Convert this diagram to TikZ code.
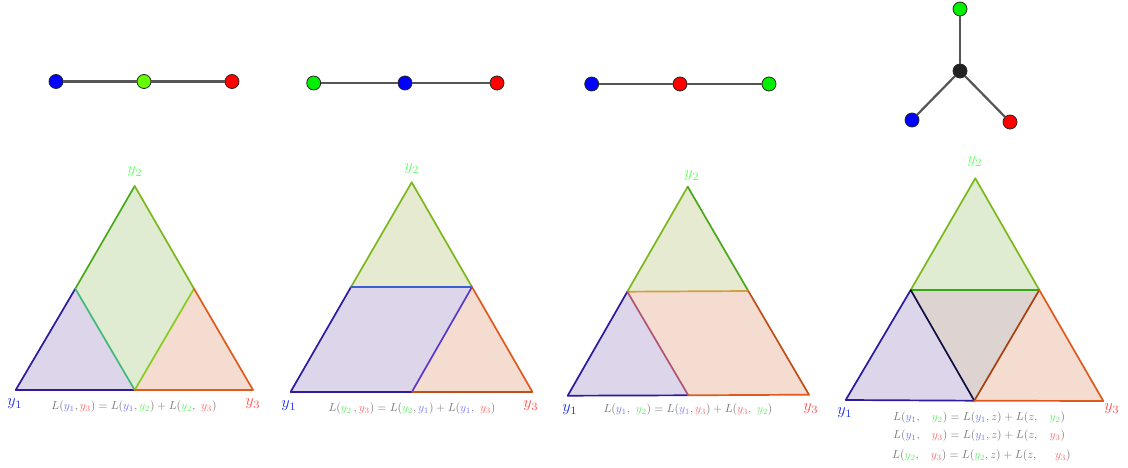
\documentclass[tikz,border=0pt]{standalone}
\usepackage{xcolor}
\definecolor{nblue}{HTML}{0000FF}
\definecolor{nred}{HTML}{FF0000}
\definecolor{ngreen}{HTML}{00F000}
\definecolor{nlime}{HTML}{66FF00}
\definecolor{nblack}{HTML}{222222}
\definecolor{gline}{HTML}{555555}
\definecolor{fpurple}{HTML}{DDD6EA}
\definecolor{fgreen}{HTML}{E0ECD2}
\definecolor{fgreenb}{HTML}{E5EAD0}
\definecolor{forange}{HTML}{F4DCD0}
\definecolor{fcenter}{HTML}{DDD4D2}
\definecolor{eindigo}{HTML}{2E1A9E}
\definecolor{egreen}{HTML}{4AA81A}
\definecolor{eygreen}{HTML}{7AB81C}
\definecolor{eorange}{HTML}{E05A1E}
\definecolor{ebrown}{HTML}{C0501A}
\definecolor{eteal}{HTML}{44B87A}
\definecolor{elime}{HTML}{88CC22}
\definecolor{eblue}{HTML}{3A5FD0}
\definecolor{eviolet}{HTML}{5A3AC8}
\definecolor{eochre}{HTML}{D0A040}
\definecolor{emauve}{HTML}{B05575}
\definecolor{edkgreen}{HTML}{33AA11}
\definecolor{enavy}{HTML}{101040}
\definecolor{erust}{HTML}{A84010}
\definecolor{lblue}{HTML}{2233EE}
\definecolor{lred}{HTML}{FF5555}
\definecolor{lgreen}{HTML}{66FF66}
\definecolor{tgray}{HTML}{777777}
\definecolor{tblue}{HTML}{7777FF}
\definecolor{tred}{HTML}{FF6666}
\definecolor{tgreen}{HTML}{66EE66}
\newcommand{\ybl}[1]{\textcolor{tblue}{#1}}
\newcommand{\yrd}[1]{\textcolor{tred}{#1}}
\newcommand{\ygr}[1]{\textcolor{tgreen}{#1}}
\newcommand{\wsp}{\ \;\;}
\tikzset{
  vtx/.style={circle,draw=black!85,line width=0.8pt,minimum size=14pt,inner sep=0pt},
  gedge/.style={draw=gline,line width=2.2pt},
  tedge/.style={line width=1.7pt,line cap=round},
  corner/.style={scale=1.6,inner sep=0pt},
  formula/.style={text=tgray,scale=1.16,inner sep=0pt}
}
\begin{document}
\begin{tikzpicture}[x=1pt,y=-1pt]
\useasboundingbox (0,0) rectangle (1128,468);
% ---------- graphs ----------
\node[vtx,fill=nblue] (g1a) at (56,81.5) {};
\node[vtx,fill=nlime] (g1b) at (144,81.5) {};
\node[vtx,fill=nred] (g1c) at (232,81.5) {};
\draw[gedge] (g1a) -- (g1b);
\draw[gedge] (g1b) -- (g1c);
\node[vtx,fill=ngreen] (g2a) at (313.7,83) {};
\node[vtx,fill=nblue] (g2b) at (405,83) {};
\node[vtx,fill=nred] (g2c) at (497,83) {};
\draw[gedge] (g2a) -- (g2b);
\draw[gedge] (g2b) -- (g2c);
\node[vtx,fill=nblue] (g3a) at (591.7,84) {};
\node[vtx,fill=nred] (g3b) at (680,84) {};
\node[vtx,fill=ngreen] (g3c) at (769,84) {};
\draw[gedge] (g3a) -- (g3b);
\draw[gedge] (g3b) -- (g3c);
\node[vtx,fill=ngreen] (g4g) at (960,9) {};
\node[vtx,fill=nblack] (g4z) at (960,71) {};
\node[vtx,fill=nblue] (g4b) at (912,120) {};
\node[vtx,fill=nred] (g4r) at (1010,122) {};
\draw[gedge] (g4z) -- (g4g);
\draw[gedge] (g4z) -- (g4b);
\draw[gedge] (g4z) -- (g4r);
% ---------- panel 1 ----------
\coordinate (A1) at (15.7,390);
\coordinate (B1) at (134.7,186);
\coordinate (C1) at (253,390);
\coordinate (L1) at (75.3,288.7);
\coordinate (R1) at (194,288.7);
\coordinate (M1) at (134.7,390);
\fill[fpurple] (A1) -- (L1) -- (M1) -- cycle;
\fill[fgreen] (L1) -- (B1) -- (R1) -- (M1) -- cycle;
\fill[forange] (M1) -- (R1) -- (C1) -- cycle;
\draw[tedge,eindigo] (A1) -- (L1);
\draw[tedge,eindigo] (A1) -- (M1);
\draw[tedge,egreen] (L1) -- (B1);
\draw[tedge,eygreen] (B1) -- (R1);
\draw[tedge,eteal] (L1) -- (M1);
\draw[tedge,elime] (M1) -- (R1);
\draw[tedge,eorange] (R1) -- (C1);
\draw[tedge,eorange] (M1) -- (C1);
\node[corner,text=lgreen] (t1b) at (135,172) {$y_2$};
\node[corner,text=lblue] (t1a) at (15,404) {$y_1$};
\node[corner,text=lred] (t1c) at (253,404) {$y_3$};
\node[formula] (f1) at (134,407) {$L(\ybl{y_1},\yrd{y_3}) = L(\ybl{y_1},\ygr{y_2}) + L(\ygr{y_2},\ \yrd{y_3})$};
% ---------- panel 2 ----------
\coordinate (A2) at (290.7,391.7);
\coordinate (B2) at (411.7,182.3);
\coordinate (C2) at (532.3,391.7);
\coordinate (L2) at (351,287);
\coordinate (R2) at (472,287);
\coordinate (M2) at (412,391.7);
\fill[fgreenb] (L2) -- (B2) -- (R2) -- cycle;
\fill[fpurple] (A2) -- (L2) -- (R2) -- (M2) -- cycle;
\fill[forange] (M2) -- (R2) -- (C2) -- cycle;
\draw[tedge,eindigo] (A2) -- (L2);
\draw[tedge,eindigo] (A2) -- (M2);
\draw[tedge,eygreen] (L2) -- (B2);
\draw[tedge,eygreen] (B2) -- (R2);
\draw[tedge,eblue] (L2) -- (R2);
\draw[tedge,eviolet] (R2) -- (M2);
\draw[tedge,eorange] (R2) -- (C2);
\draw[tedge,ebrown] (M2) -- (C2);
\node[corner,text=lgreen] (t2b) at (412,169) {$y_2$};
\node[corner,text=lblue] (t2a) at (289,406) {$y_1$};
\node[corner,text=lred] (t2c) at (531,406) {$y_3$};
\node[formula] (f2) at (412,409) {$L(\ygr{y_2}\,,\yrd{y_3}) = L(\ygr{y_2},\ybl{y_1}) + L(\ybl{y_1},\ \yrd{y_3})$};
% ---------- panel 3 ----------
\coordinate (A3) at (567.7,395.7);
\coordinate (B3) at (687.7,186.7);
\coordinate (C3) at (809,394.7);
\coordinate (L3) at (627.3,291.7);
\coordinate (R3) at (748.3,291);
\coordinate (M3) at (688.3,395.3);
\fill[fgreenb] (L3) -- (B3) -- (R3) -- cycle;
\fill[fpurple] (A3) -- (L3) -- (M3) -- cycle;
\fill[forange] (L3) -- (R3) -- (C3) -- (M3) -- cycle;
\draw[tedge,eindigo] (A3) -- (L3);
\draw[tedge,eindigo] (A3) -- (M3);
\draw[tedge,eygreen] (L3) -- (B3);
\draw[tedge,egreen] (B3) -- (R3);
\draw[tedge,eochre] (L3) -- (R3);
\draw[tedge,emauve] (L3) -- (M3);
\draw[tedge,ebrown] (R3) -- (C3);
\draw[tedge,eorange] (M3) -- (C3);
\node[corner,text=lgreen] (t3b) at (692,176) {$y_2$};
\node[corner,text=lblue] (t3a) at (570,410) {$y_1$};
\node[corner,text=lred] (t3c) at (811,409) {$y_3$};
\node[formula] (f3) at (688,410) {$L(\ybl{y_1},\ \ygr{y_2}) = L(\ybl{y_1},\yrd{y_3}) + L(\yrd{y_3},\ \ygr{y_2})$};
% ---------- panel 4 ----------
\coordinate (A4) at (845.7,400);
\coordinate (B4) at (975.3,178.3);
\coordinate (C4) at (1103.3,401);
\coordinate (L4) at (910.7,290);
\coordinate (R4) at (1039.3,290);
\coordinate (M4) at (974.3,400.7);
\fill[fgreen] (L4) -- (B4) -- (R4) -- cycle;
\fill[fpurple] (A4) -- (L4) -- (M4) -- cycle;
\fill[fcenter] (L4) -- (R4) -- (M4) -- cycle;
\fill[forange] (M4) -- (R4) -- (C4) -- cycle;
\draw[tedge,eindigo] (A4) -- (L4);
\draw[tedge,eindigo] (A4) -- (M4);
\draw[tedge,eygreen] (L4) -- (B4);
\draw[tedge,eygreen] (B4) -- (R4);
\draw[tedge,edkgreen] (L4) -- (R4);
\draw[tedge,enavy] (L4) -- (M4);
\draw[tedge,erust] (M4) -- (R4);
\draw[tedge,eorange] (R4) -- (C4);
\draw[tedge,eorange] (M4) -- (C4);
\node[corner,text=lgreen] (t4b) at (975,162) {$y_2$};
\node[corner,text=lblue] (t4a) at (845,413) {$y_1$};
\node[corner,text=lred] (t4c) at (1112,409) {$y_3$};
\node[formula,anchor=west] (f4a) at (893,417.7) {$L(\ybl{y_1},\wsp\ygr{y_2}) = L(\ybl{y_1},z) + L(z,\wsp\ygr{y_2})$};
\node[formula,anchor=west] (f4b) at (893,435.7) {$L(\ybl{y_1},\wsp\yrd{y_3}) = L(\ybl{y_1},z) + L(z,\wsp\yrd{y_3})$};
\node[formula,anchor=west] (f4c) at (892,455.7) {$L(\ygr{y_2},\wsp\yrd{y_3}) = L(\ygr{y_2},z) + L(z,\wsp\;\;\yrd{y_3})$};
\end{tikzpicture}
\end{document}
